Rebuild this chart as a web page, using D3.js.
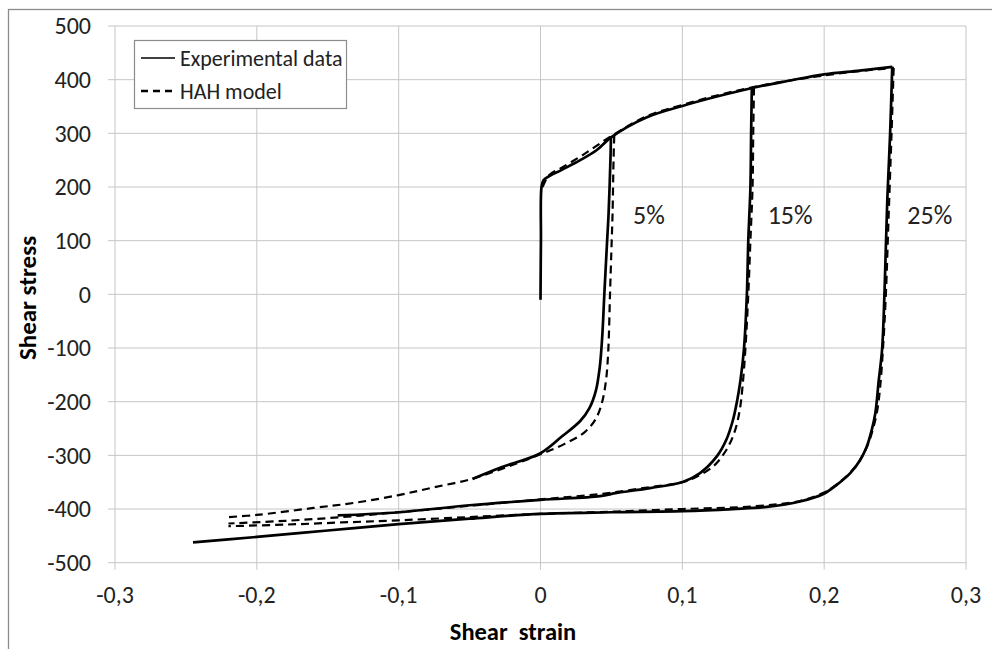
<!DOCTYPE html>
<html>
<head>
<meta charset="utf-8">
<script src="https://cdn.jsdelivr.net/npm/d3@7"></script>
<style>
  body { margin: 0; background: #fff; }
  text { font-family: Carlito, Calibri, "Open Sans", sans-serif; }
</style>
</head>
<body>
<div id="chart"></div>
<script>
// Axis ticks
const xTicks = [-0.3, -0.2, -0.1, 0, 0.1, 0.2, 0.3];
const yTicks = [-500, -400, -300, -200, -100, 0, 100, 200, 300, 400, 500];

// Experimental data (solid) - [strain, stress]
const expLoading = [[0, -10], [0.0003, 100], [0.0007, 200], [0.002, 212], [0.0053, 219], [0.015, 232], [0.028, 250], [0.0397, 269], [0.05, 293], [0.075, 330], [0.1, 351], [0.125, 369], [0.15, 385], [0.175, 398], [0.2, 410], [0.225, 417], [0.248, 424]];
const exp5 = [[0.0497, 295], [0.0493, 250], [0.048, 150], [0.047, 101], [0.045, 0], [0.0435, -80], [0.0418, -135], [0.039, -180], [0.0345, -212], [0.028, -236], [0.015, -265], [0, -296], [-0.0285, -323], [-0.048, -344]];
const exp15 = [[0.149, 385], [0.1485, 300], [0.148, 200], [0.1465, 100], [0.1455, 0], [0.1435, -100], [0.141, -160], [0.1385, -200], [0.1355, -236], [0.131, -271], [0.1243, -302], [0.1125, -333], [0.1007, -349], [0.0772, -361], [0.0537, -370], [0.042, -376], [0, -383], [-0.05, -393], [-0.1, -406], [-0.143, -412]];
const exp25 = [[0.248, 424], [0.2465, 300], [0.2445, 176], [0.2425, 0], [0.2408, -104], [0.2385, -160], [0.2361, -221], [0.2335, -253], [0.230, -284], [0.2253, -309], [0.2184, -333], [0.2088, -355], [0.1994, -372], [0.183, -386], [0.1595, -396], [0.1357, -400], [0.1005, -404], [0.05, -406], [0, -409], [-0.05, -418], [-0.1, -428], [-0.15, -440], [-0.2, -452], [-0.245, -462]];

// HAH model (dashed)
const hahLoading = [[0.0015, 200], [0.006, 222], [0.015, 236], [0.03, 260], [0.05, 295], [0.075, 332], [0.1, 353], [0.125, 371], [0.15, 386], [0.175, 398], [0.2, 408], [0.225, 416], [0.249, 422]];
const hah5 = [[0.052, 296], [0.0515, 250], [0.0508, 150], [0.0502, 100], [0.049, 0], [0.0478, -104], [0.0462, -160], [0.0435, -200], [0.039, -232], [0.031, -257], [0.016, -280], [0, -298], [-0.025, -323], [-0.05, -345], [-0.076, -360], [-0.1, -374], [-0.13, -388], [-0.16, -398], [-0.2, -411], [-0.22, -415]];
const hah15 = [[0.1505, 385], [0.15, 300], [0.1495, 200], [0.148, 100], [0.1465, 0], [0.1445, -100], [0.1425, -170], [0.1405, -215], [0.137, -255], [0.131, -290], [0.122, -320], [0.11, -340], [0.1, -350], [0.075, -360], [0.042, -372], [0, -382], [-0.05, -394], [-0.1, -406], [-0.14, -415], [-0.18, -422], [-0.22, -427]];
const hah25 = [[0.249, 422], [0.2475, 300], [0.2455, 150], [0.2435, 0], [0.2415, -100], [0.2395, -172], [0.2375, -215], [0.234, -255], [0.23, -285], [0.225, -310], [0.218, -333], [0.209, -354], [0.2, -369], [0.183, -385], [0.15, -395], [0.1, -400], [0.05, -405], [0, -409], [-0.05, -415], [-0.1, -421], [-0.14, -425], [-0.18, -429], [-0.22, -432]];

// Labels for each pre-strain level
const levelLabels = [
  { text: "5%", x: 0.0765 },
  { text: "15%", x: 0.176 },
  { text: "25%", x: 0.2745 }
];
const levelLabelY = 215;

const width = 992, height = 649;

const svg = d3.select("#chart")
  .append("svg")
  .attr("width", width)
  .attr("height", height);

// outer frame
svg.append("rect")
  .attr("x", 8.5).attr("y", 9.5)
  .attr("width", 1000).attr("height", 700)
  .attr("fill", "none")
  .attr("stroke", "#8c8c8c")
  .attr("stroke-width", 1.3);

const x = d3.scaleLinear()
  .domain([-0.3, 0.3])
  .range([115, 966]);

const y = d3.scaleLinear()
  .domain([-500, 500])
  .range([562.7, 26]);

// Gridlines
svg.append("g")
  .selectAll("line")
  .data(xTicks)
  .join("line")
  .attr("x1", d => x(d)).attr("x2", d => x(d))
  .attr("y1", y(500)).attr("y2", y(-500) + 7)
  .attr("stroke", "#c6c6c6")
  .attr("stroke-width", 1);

svg.append("g")
  .selectAll("line")
  .data(yTicks)
  .join("line")
  .attr("x1", x(-0.3) - 7).attr("x2", x(0.3))
  .attr("y1", d => y(d)).attr("y2", d => y(d))
  .attr("stroke", "#c6c6c6")
  .attr("stroke-width", 1);

// Tick labels
const fmt = d => d === 0 ? "0" : d3.format(".1f")(d).replace(".", ",").replace("−", "-");

svg.append("g")
  .selectAll("text")
  .data(xTicks)
  .join("text")
  .attr("x", d => x(d))
  .attr("y", 595)
  .attr("dy", "0.35em")
  .attr("text-anchor", "middle")
  .style("font-size", "24px")
  .style("fill", "#222")
  .text(fmt);

svg.append("g")
  .selectAll("text")
  .data(yTicks)
  .join("text")
  .attr("x", 91)
  .attr("y", d => y(d))
  .attr("dy", "0.35em")
  .attr("text-anchor", "end")
  .style("font-size", "24px")
  .style("fill", "#222")
  .text(d => String(d).replace("−", "-"));

// Axis titles
svg.append("text")
  .attr("x", 513)
  .attr("y", 631)
  .attr("dy", "0.35em")
  .attr("text-anchor", "middle")
  .style("font-size", "24.5px")
  .style("font-weight", "bold")
  .style("white-space", "pre")
  .text("Shear  strain");

svg.append("text")
  .attr("transform", "translate(27,298) rotate(-90)")
  .attr("dy", "0.35em")
  .attr("text-anchor", "middle")
  .style("font-size", "25px")
  .style("font-weight", "bold")
  .text("Shear stress");

// Curves
const line = d3.line()
  .x(d => x(d[0]))
  .y(d => y(d[1]))
  .curve(d3.curveCatmullRom.alpha(0.5));

const expSeries = [expLoading, exp5, exp15, exp25];
const hahSeries = [hahLoading, hah5, hah15, hah25];

svg.append("g")
  .selectAll("path")
  .data(hahSeries)
  .join("path")
  .attr("d", d => line(d))
  .attr("fill", "none")
  .attr("stroke", "#000")
  .attr("stroke-width", 2.2)
  .attr("stroke-dasharray", "8,5");

svg.append("g")
  .selectAll("path")
  .data(expSeries)
  .join("path")
  .attr("d", d => line(d))
  .attr("fill", "none")
  .attr("stroke", "#000")
  .attr("stroke-width", 2.7)
  .attr("stroke-linejoin", "round");

// Level labels
svg.append("g")
  .selectAll("text")
  .data(levelLabels)
  .join("text")
  .attr("x", d => x(d.x))
  .attr("y", levelLabelY)
  .attr("dy", "0.35em")
  .attr("text-anchor", "middle")
  .style("font-size", "26px")
  .style("fill", "#222")
  .text(d => d.text);

// Legend
const legend = svg.append("g");
legend.append("rect")
  .attr("x", 134.5).attr("y", 40.5)
  .attr("width", 212).attr("height", 68)
  .attr("fill", "#fff")
  .attr("stroke", "#8c8c8c")
  .attr("stroke-width", 1.2);

const legendItems = [
  { label: "Experimental data", dash: null, y: 58 },
  { label: "HAH model", dash: "7,5", y: 91 }
];

legendItems.forEach(item => {
  legend.append("line")
    .attr("x1", 141).attr("x2", 175)
    .attr("y1", item.y).attr("y2", item.y)
    .attr("stroke", "#000")
    .attr("stroke-width", item.dash ? 2.4 : 1.5)
    .attr("stroke-dasharray", item.dash);
  legend.append("text")
    .attr("x", 180)
    .attr("y", item.y)
    .attr("dy", "0.35em")
    .style("font-size", "22px")
    .style("fill", "#222")
    .text(item.label);
});
</script>
</body>
</html>
